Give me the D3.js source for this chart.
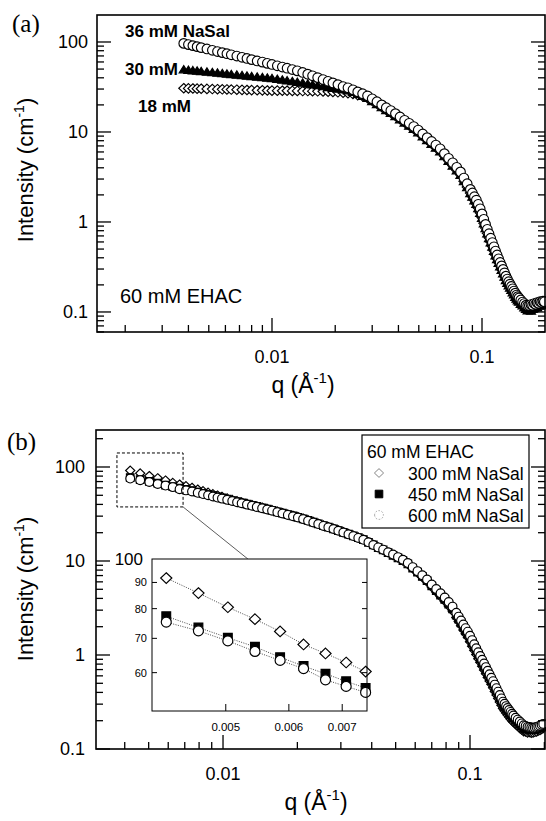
<!DOCTYPE html>
<html><head><meta charset="utf-8">
<script src="https://cdn.jsdelivr.net/npm/d3@7"></script>
<style>body{margin:0;background:#fff}svg{display:block}</style>
</head><body>
<svg id="c" width="546" height="821"></svg>
<script>
// ---------- DATA: panel (a), 60 mM EHAC ----------
const qA = [0.0038,0.0040,0.0042,0.0044,0.0046,0.0049,0.0052,0.0055,0.0058,0.0061,0.0064,0.0068,0.0072,0.0076,0.0080,0.0085,0.0090,0.0095,0.0100,0.0106,0.0112,0.0118,0.0125,0.0132,0.0140,0.0148,0.0156,0.0165,0.0175,0.0185,0.0195,0.0206,0.0218,
0.023,0.0243,0.0256,0.027,0.0285,0.030,0.0316,0.0333,0.035,0.0368,0.0387,0.0407,0.0428,0.045,0.0473,0.0497,0.0522,0.0548,0.0575,0.0603,0.0632,0.0662,0.0693,0.0725,0.0758,0.079,0.082,0.085,
0.088,0.090,0.092,0.094,0.096,0.098,0.100,0.102,0.104,0.106,0.108,0.110,0.112,0.114,0.116,0.118,0.120,0.122,0.124,0.126,0.128,0.130,0.132,0.134,0.136,0.138,0.140,0.142,0.144,0.146,0.148,0.150,
0.153,0.156,0.159,0.162,0.165,0.168,0.171,0.174,0.177,0.180,0.183,0.186,0.189,0.192,0.195,0.198];
const iA36 = [96.5,93.6,91.1,88.8,86.6,83.6,80.9,78.4,76.2,74.1,72.1,69.8,67.6,65.6,63.7,61.6,59.8,57.9,56.3,54.4,52.7,51.1,49.4,47.8,45.9,43.9,42.1,40.2,38.3,36.6,35.1,33.6,32.0,
31.0,29.4,27.9,26.6,25.2,23.4,21.7,20.0,18.6,17.3,16.0,14.7,13.5,12.5,11.5,10.5,9.5,8.65,7.85,7.15,6.5,5.75,5.1,4.55,4.05,3.6,3.08,2.66,
2.3,2.1,1.91,1.75,1.57,1.40,1.23,1.07,0.94,0.83,0.74,0.66,0.59,0.53,0.475,0.43,0.39,0.355,0.325,0.297,0.272,0.25,0.232,0.217,0.204,0.192,0.181,0.171,0.162,0.154,0.148,0.143,
0.136,0.129,0.124,0.119,0.117,0.118,0.121,0.119,0.124,0.122,0.127,0.125,0.13,0.128,0.132,0.13];
const iA30 = [49.6,49.0,48.4,47.9,47.4,46.7,46.1,45.5,44.9,44.4,43.9,43.3,42.7,42.2,41.7,41.1,40.6,40.1,39.6,38.8,38.1,37.4,36.6,35.9,35.2,34.4,33.7,33.0,32.2,31.5,30.8,30.2,29.6,
29.0,27.9,26.5,25.2,23.8,22.0,20.4,18.8,17.5,16.3,15.0,13.8,12.7,11.7,10.8,9.9,8.9,8.1,7.36,6.69,6.08,5.37,4.75,4.22,3.74,3.33,2.83,2.43,
2.09,1.91,1.73,1.58,1.42,1.26,1.11,0.96,0.85,0.745,0.66,0.59,0.53,0.475,0.425,0.385,0.35,0.32,0.293,0.268,0.246,0.226,0.21,0.197,0.186,0.175,0.165,0.156,0.147,0.14,0.134,0.13,
0.123,0.118,0.112,0.108,0.104,0.106,0.103,0.108,0.11,0.113,0.112,0.118,0.117,0.121,0.12,0.123];
const iA18 = [30.6,30.5,30.4,30.3,30.2,30.1,30.0,29.9,29.8,29.7,29.6,29.5,29.4,29.3,29.2,29.1,29.0,28.9,28.8,28.8,28.7,28.7,28.6,28.6,28.5,28.5,28.4,28.3,28.2,28.0,27.8,27.6,27.3,
27.0,26.4,25.7,24.9,23.8,22.2,20.6,19.0,17.6,16.4,15.1,13.9,12.8,11.8,10.8,9.95,8.95,8.15,7.4,6.72,6.1,5.4,4.78,4.24,3.76,3.34,2.84,2.44,
2.1,1.92,1.74,1.59,1.43,1.27,1.12,0.97,0.855,0.75,0.67,0.6,0.536,0.48,0.43,0.39,0.355,0.325,0.297,0.272,0.25,0.23,0.213,0.2,0.19,0.178,0.168,0.159,0.15,0.143,0.137,0.133,
0.127,0.121,0.116,0.111,0.108,0.109,0.11,0.112,0.113,0.117,0.118,0.12,0.123,0.124,0.125,0.126];
const labelsA = ["36 mM NaSal","30 mM","18 mM"];

// ---------- DATA: panel (b), 60 mM EHAC ----------
const qB = [0.00421,0.00462,0.00503,0.00544,0.00585,0.00626,0.00667,0.00708,0.00749,
0.0079,0.0083,0.0087,0.0091,0.0095,0.0099,0.0104,0.0109,0.0114,0.0119,0.0125,0.0131,0.0137,0.0144,0.0151,0.0158,
0.0166,0.0174,0.0183,0.0192,0.0201,0.0211,0.0221,0.0232,0.0243,0.0255,0.0267,0.028,0.0293,0.0307,0.0322,0.0337,0.0353,0.037,0.0388,0.0406,0.0425,0.0445,0.0466,0.0488,0.0511,0.0535,0.056,0.0586,0.0613,0.0641,0.067,0.07,0.073,0.076,0.079,0.082,0.085,
0.088,0.090,0.092,0.094,0.096,0.098,0.100,0.102,0.104,0.106,0.108,0.110,0.112,0.114,0.116,0.118,0.120,0.122,0.124,0.126,0.128,0.130,0.132,0.134,0.136,0.138,0.140,0.142,0.144,0.146,0.148,0.150,
0.153,0.156,0.159,0.162,0.165,0.168,0.171,0.174,0.177,0.180,0.183,0.186,0.189,0.192,0.195,0.198];
const iB300 = [91.8,85.8,80.5,76.3,72.2,68.1,65.4,62.8,60.3,
57.8,55.6,53.6,51.7,50.0,48.4,46.5,44.8,43.5,42.2,40.9,39.6,38.4,37.2,36.0,34.9,
33.7,32.5,31.4,30.4,29.5,28.4,27.3,26.2,25.1,24.0,23.1,22.2,21.3,20.4,19.5,18.7,17.9,17.0,15.9,14.9,14.0,13.1,12.3,11.5,10.8,10.05,9.2,8.3,7.48,6.72,6.02,5.28,4.69,4.18,3.74,3.32,2.94,
2.5,2.27,2.05,1.85,1.68,1.54,1.38,1.24,1.12,1.01,0.915,0.835,0.76,0.693,0.633,0.578,0.53,0.487,0.447,0.41,0.376,0.345,0.317,0.292,0.27,0.256,0.242,0.23,0.219,0.209,0.2,0.192,
0.183,0.175,0.166,0.16,0.153,0.152,0.149,0.15,0.148,0.149,0.151,0.152,0.156,0.158,0.162,0.166];
const iB450 = [77.3,73.5,70.2,67.4,64.3,61.8,59.7,57.7,56.0,
54.1,52.4,50.9,49.5,48.1,46.8,45.4,44.0,42.8,41.6,40.3,39.1,38.0,36.8,35.7,34.6,
33.4,32.3,31.2,30.2,29.2,28.1,27.0,25.9,24.9,23.8,22.9,22.0,21.1,20.2,19.3,18.5,17.7,16.9,15.8,14.8,13.9,13.1,12.25,11.5,10.8,10.1,9.3,8.4,7.6,6.85,6.17,5.44,4.85,4.34,3.9,3.48,3.1,
2.65,2.41,2.19,1.98,1.81,1.66,1.5,1.35,1.22,1.105,1.0,0.912,0.832,0.759,0.694,0.635,0.582,0.535,0.492,0.452,0.414,0.38,0.35,0.322,0.298,0.283,0.267,0.255,0.243,0.232,0.222,0.212,
0.201,0.192,0.183,0.175,0.167,0.165,0.163,0.162,0.161,0.16,0.161,0.163,0.166,0.169,0.173,0.177];
const iB600 = [75.3,72.4,69.2,66.0,63.4,61.1,58.1,56.4,54.9,
53.1,51.5,50.0,48.6,47.3,46.1,44.7,43.5,42.2,41.1,39.8,38.7,37.6,36.4,35.3,34.3,
33.1,32.0,30.9,29.9,29.0,27.9,26.8,25.7,24.7,23.6,22.8,21.9,21.0,20.1,19.2,18.4,17.6,16.8,15.8,14.8,13.95,13.2,12.4,11.7,11.0,10.3,9.5,8.6,7.8,7.05,6.36,5.63,5.04,4.53,4.08,3.66,3.27,
2.81,2.56,2.33,2.11,1.93,1.77,1.6,1.44,1.3,1.18,1.07,0.975,0.89,0.812,0.743,0.68,0.623,0.573,0.527,0.484,0.444,0.407,0.375,0.345,0.319,0.303,0.286,0.273,0.26,0.248,0.237,0.227,
0.215,0.205,0.196,0.187,0.179,0.176,0.172,0.171,0.169,0.168,0.169,0.171,0.174,0.177,0.181,0.185];
const legendB = ["300 mM NaSal","450 mM NaSal","600 mM NaSal"];
const insetCount = 9; // the inset shows the first nine points of each (b) series

// ---------- TICKS ----------
const yTickValsMain = [0.1,1,10,100];
const yTickLabelsMain = ["0.1","1","10","100"];
const xTickValsMain = [0.01,0.1];
const xTickLabelsMain = ["0.01","0.1"];
const insetYTickVals = [60,70,80,90,100];
const insetYTickLabels = ["60","70","80","90","100"];
const insetXTickVals = [0.005,0.006,0.007];
const insetXTickLabels = ["0.005","0.006","0.007"];

// ---------- DRAWING ----------
const SANS = '"Liberation Sans", Arial, Helvetica, sans-serif';
const SERIF = '"Liberation Serif", "Times New Roman", serif';
const svg = d3.select('#c');
svg.append('rect').attr('width',546).attr('height',821).attr('fill','#fff');

const isMajor = v => { const l=Math.log10(v); return Math.abs(l-Math.round(l))<1e-6; };

function shapes(kind, s){
  if(kind==='circle') return `M${-s},0a${s},${s} 0 1,0 ${2*s},0a${s},${s} 0 1,0 ${-2*s},0Z`;
  if(kind==='diamond') return `M0,${-s*0.95}L${s},0L0,${s*0.95}L${-s},0Z`;
  if(kind==='square') return `M${-s},${-s}h${2*s}v${2*s}h${-2*s}Z`;
  if(kind==='triangle') return `M0,${-s*0.85}L${s},${s*0.75}L${-s},${s*0.75}Z`;
}

function drawFrame(g, x, y, maj, mnr){
  const [x0,x1]=x.range(), [y0,y1]=y.range();
  const xt = x.ticks().filter(v=>v>=x.domain()[0]&&v<=x.domain()[1]);
  const yt = y.ticks().filter(v=>v>=y.domain()[0]&&v<=y.domain()[1]);
  const tk = g.append('g').attr('stroke','#000').attr('stroke-width',1.3);
  tk.selectAll(null).data(xt).join('line')
    .attr('x1',d=>x(d)).attr('x2',d=>x(d)).attr('y1',y0).attr('y2',d=>y0-(isMajor(d)?maj:mnr));
  tk.selectAll(null).data(yt).join('line')
    .attr('y1',d=>y(d)).attr('y2',d=>y(d)).attr('x1',x0).attr('x2',d=>x0+(isMajor(d)?maj:mnr));
  tk.selectAll(null).data(yt).join('line')
    .attr('y1',d=>y(d)).attr('y2',d=>y(d)).attr('x1',x1).attr('x2',d=>x1-(isMajor(d)?maj:mnr));
  g.append('rect').attr('x',x0).attr('y',y1).attr('width',x1-x0).attr('height',y0-y1)
    .attr('fill','none').attr('stroke','#000').attr('stroke-width',1.6);
}

function tickLabels(g, x, y, xLabY, yLabX){
  g.selectAll(null).data(yTickValsMain.filter(v=>v>=y.domain()[0]&&v<=y.domain()[1])).join('text')
    .attr('x',yLabX).attr('y',d=>y(d)).attr('dy','0.36em').attr('text-anchor','end')
    .attr('font-family',SANS).attr('font-size',18).text(d=>yTickLabelsMain[yTickValsMain.indexOf(d)]);
  g.selectAll(null).data(xTickValsMain).join('text')
    .attr('x',d=>x(d)).attr('y',xLabY).attr('text-anchor','middle')
    .attr('font-family',SANS).attr('font-size',18).text((d,i)=>xTickLabelsMain[i]);
}

function axisTitles(g, xc, xBase, yc){
  const t = g.append('text').attr('x',xc).attr('y',xBase).attr('text-anchor','middle')
    .attr('font-family',SANS).attr('font-size',23);
  t.append('tspan').text('q (Å');
  t.append('tspan').attr('dy',-10).attr('font-size',15).text('-1');
  t.append('tspan').attr('dy',10).text(')');
  const u = g.append('text').attr('transform',`translate(33,${yc}) rotate(-90)`).attr('text-anchor','middle')
    .attr('font-family',SANS).attr('font-size',22);
  u.append('tspan').text('Intensity (cm');
  u.append('tspan').attr('dy',-9).attr('font-size',14).text('-1');
  u.append('tspan').attr('dy',9).text(')');
}

function plotSeries(g, x, y, qs, vals, kind, s, fill){
  const n = Math.min(qs.length, vals.length);
  g.append('g').selectAll(null).data(d3.range(n)).join('path')
    .attr('transform',i=>`translate(${x(qs[i])},${y(vals[i])})`)
    .attr('d',shapes(kind,s)).attr('fill',fill).attr('stroke','#000').attr('stroke-width',1.15);
}

// ===== Panel (a) =====
const xA = d3.scaleLog().domain([0.001468,0.1995]).range([97,545]);
const yA = d3.scaleLog().domain([0.0599,199.5]).range([332,15]);
const gA = svg.append('g');
plotSeries(gA,xA,yA,qA,iA18,'diamond',5,'#fff');
plotSeries(gA,xA,yA,qA,iA30,'triangle',4.6,'#000');
plotSeries(gA,xA,yA,qA,iA36,'circle',4.8,'#fff');
drawFrame(gA,xA,yA,14,7);
tickLabels(gA,xA,yA,363,88);
axisTitles(gA,303,393,170);
gA.append('text').attr('x',12).attr('y',32).attr('font-family',SERIF).attr('font-size',25).text('(a)');
gA.append('text').attr('x',125).attr('y',37).attr('font-family',SANS).attr('font-weight','bold').attr('font-size',17).text(labelsA[0]);
gA.append('text').attr('x',125).attr('y',75).attr('font-family',SANS).attr('font-weight','bold').attr('font-size',17).text(labelsA[1]);
gA.append('text').attr('x',138).attr('y',112).attr('font-family',SANS).attr('font-weight','bold').attr('font-size',17).text(labelsA[2]);
gA.append('text').attr('x',120).attr('y',303).attr('font-family',SANS).attr('font-size',20).text('60 mM EHAC');

// ===== Panel (b) =====
const xB = d3.scaleLog().domain([0.00306,0.2012]).range([96,545]);
const yB = d3.scaleLog().domain([0.1,247.5]).range([749,430]);
const gB = svg.append('g');
plotSeries(gB,xB,yB,qB,iB300,'diamond',4.6,'#fff');
plotSeries(gB,xB,yB,qB,iB450,'square',3.8,'#000');
plotSeries(gB,xB,yB,qB,iB600,'circle',4.4,'#fff');
drawFrame(gB,xB,yB,14,7);
tickLabels(gB,xB,yB,780,85);
axisTitles(gB,316,810,589);
gB.append('text').attr('x',7).attr('y',450).attr('font-family',SERIF).attr('font-size',25).text('(b)');

// zoom box (data region shown in the inset)
const zoomQ = [0.00372,0.00689], zoomI = [37.6,141];
gB.append('rect').attr('x',xB(zoomQ[0])).attr('y',yB(zoomI[1]))
  .attr('width',xB(zoomQ[1])-xB(zoomQ[0])).attr('height',yB(zoomI[0])-yB(zoomI[1]))
  .attr('fill','none').attr('stroke','#000').attr('stroke-width',1).attr('stroke-dasharray','3,2');

// legend
const lg = gB.append('g');
lg.append('rect').attr('x',362).attr('y',435).attr('width',167).attr('height',93)
  .attr('fill','#fff').attr('stroke','#000').attr('stroke-width',1.2);
lg.append('text').attr('x',367).attr('y',458).attr('font-family',SANS).attr('font-size',17.5).text('60 mM EHAC');
const legKinds = [['diamond',4.6,'#fff','#777',0.9,null],['square',3.8,'#000','#000',1,null],['circle',4.4,'#fff','#999',0.9,'1.6,1.6']];
legendB.forEach((t,i)=>{
  const yy = 480 + i*21;
  const k = legKinds[i];
  lg.append('path').attr('transform',`translate(379,${yy-7})`).attr('d',shapes(k[0],k[1]))
    .attr('fill',k[2]).attr('stroke',k[3]).attr('stroke-width',k[4]).attr('stroke-dasharray',k[5]);
  lg.append('text').attr('x',408).attr('y',yy).attr('font-family',SANS).attr('font-size',17.5).text(t);
});

// ===== Inset =====
const xI = d3.scaleLog().domain([0.00404,0.00752]).range([152,367]);
const yI = d3.scaleLog().domain([50.5,100]).range([711,559]);
const gI = svg.append('g');
gI.append('line').attr('x1',xB(zoomQ[1])).attr('y1',yB(zoomI[0])).attr('x2',xI(0.00533)).attr('y2',yI(100))
  .attr('stroke','#333').attr('stroke-width',0.8);
gI.append('rect').attr('x',152).attr('y',559).attr('width',215).attr('height',152).attr('fill','#fff');
const qIn = qB.slice(0,insetCount);
const insetSeries = [[iB300,'diamond',5.6,'#fff'],[iB450,'square',4.4,'#000'],[iB600,'circle',5,'#fff']];
insetSeries.forEach(s=>{
  const v = s[0].slice(0,insetCount);
  gI.append('path').datum(d3.range(qIn.length))
    .attr('d',d3.line().x(i=>xI(qIn[i])).y(i=>yI(v[i])))
    .attr('fill','none').attr('stroke','#333').attr('stroke-width',0.9).attr('stroke-dasharray','1,1.4');
});
insetSeries.forEach(s=>{
  plotSeries(gI,xI,yI,qIn,s[0].slice(0,insetCount),s[1],s[2],s[3]);
});
gI.append('rect').attr('x',152).attr('y',559).attr('width',215).attr('height',152)
  .attr('fill','none').attr('stroke','#000').attr('stroke-width',1);
const itk = gI.append('g').attr('stroke','#000').attr('stroke-width',1);
itk.selectAll(null).data(insetXTickVals).join('line')
  .attr('x1',d=>xI(d)).attr('x2',d=>xI(d)).attr('y1',711).attr('y2',704);
itk.selectAll(null).data(insetYTickVals.slice(0,4)).join('line')
  .attr('y1',d=>yI(d)).attr('y2',d=>yI(d)).attr('x1',152).attr('x2',157);
itk.selectAll(null).data(insetYTickVals.slice(0,4)).join('line')
  .attr('y1',d=>yI(d)).attr('y2',d=>yI(d)).attr('x1',367).attr('x2',362);
gI.selectAll(null).data(insetYTickVals.slice(0,4)).join('text')
  .attr('x',147).attr('y',d=>yI(d)).attr('dy','0.36em').attr('text-anchor','end')
  .attr('font-family',SANS).attr('font-size',11).text((d,i)=>insetYTickLabels[i]);
gI.append('text').attr('x',143).attr('y',yI(100)).attr('dy','0.36em').attr('text-anchor','end')
  .attr('font-family',SANS).attr('font-size',17).text(insetYTickLabels[4]);
gI.selectAll(null).data(insetXTickVals).join('text')
  .attr('x',d=>xI(d)).attr('y',731).attr('text-anchor','middle')
  .attr('font-family',SANS).attr('font-size',11.5).text((d,i)=>insetXTickLabels[i]);
</script>
</body></html>
